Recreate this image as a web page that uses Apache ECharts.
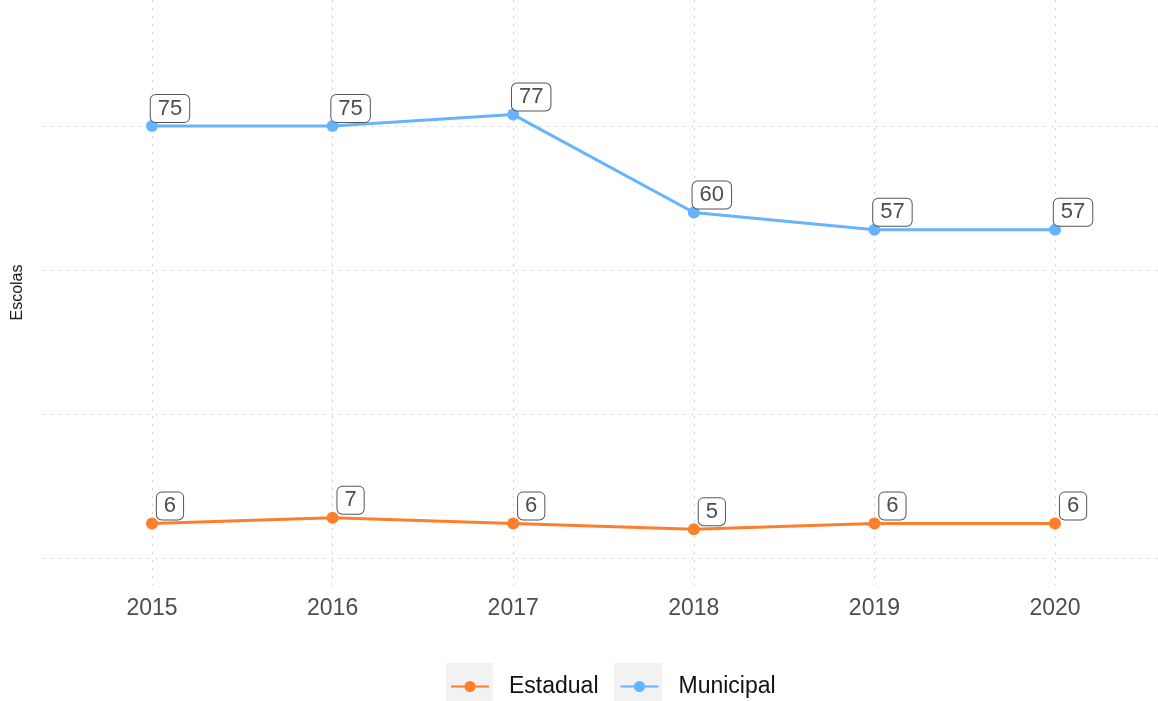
<!DOCTYPE html>
<html>
<head>
<meta charset="utf-8">
<title>Escolas</title>
<script src="https://cdn.jsdelivr.net/npm/echarts@6/dist/echarts.min.js"></script>
<style>
  html, body { margin: 0; padding: 0; background: #ffffff; }
  #chart { width: 1158px; height: 701px; }
</style>
</head>
<body>
<div id="chart"></div>
<script>
// School counts per year, by administrative network
const years = [2015, 2016, 2017, 2018, 2019, 2020];
const estadual = [6, 7, 6, 5, 6, 6];
const municipal = [75, 75, 77, 60, 57, 57];
// Horizontal reference lines on the value scale
const yGridTicks = [0, 25, 50, 75];

const FONT = "'Liberation Sans', Arial, Helvetica, sans-serif";
const ORANGE = '#fd7f2c';
const BLUE = '#66b3ff';
const GRID_LINE = { color: '#cfcfcf', width: 1, type: [2, 6] };

function pairs(values) {
  return years.map((y, i) => [y, values[i]]);
}

function lineSeries(name, values, color) {
  return {
    name: name,
    type: 'line',
    z: 3,
    data: pairs(values),
    symbol: 'circle',
    symbolSize: 12,
    showSymbol: true,
    color: color,
    lineStyle: { color: color, width: 3 },
    itemStyle: { color: color },
    emphasis: { disabled: true },
    label: {
      show: true,
      position: 'inside',
      offset: [18, -17.5],
      align: 'center',
      verticalAlign: 'middle',
      formatter: p => String(p.value[1]),
      fontFamily: FONT,
      fontSize: 22,
      lineHeight: 22,
      color: '#4d4d4d',
      backgroundColor: '#ffffff',
      borderColor: '#555555',
      borderWidth: 1,
      borderRadius: 5,
      padding: [3, 7, 2, 7]
    }
  };
}

const chart = echarts.init(document.getElementById('chart'), null, { renderer: 'canvas' });

chart.setOption({
  animation: false,
  backgroundColor: '#ffffff',
  textStyle: { fontFamily: FONT },
  grid: { left: 43.6, top: 0, width: 1114.4, height: 585, containLabel: false },
  xAxis: {
    type: 'value',
    min: 2014.4,
    max: 2020.57,
    axisLine: { show: false },
    axisTick: { show: false },
    splitLine: { show: true, showMinLine: false, showMaxLine: false, lineStyle: GRID_LINE },
    axisLabel: {
      showMinLabel: false,
      showMaxLabel: false,
      margin: 12,
      fontFamily: FONT,
      fontSize: 23,
      color: '#4d4d4d',
      formatter: v => (Number.isInteger(v) ? String(v) : '')
    }
  },
  yAxis: {
    type: 'value',
    min: -4.7,
    max: 96.9,
    axisLine: { show: false },
    axisTick: { show: false },
    axisLabel: { show: false },
    splitLine: { show: false },
    name: 'Escolas',
    nameLocation: 'middle',
    nameGap: 18,
    nameTextStyle: { fontFamily: FONT, fontSize: 16, color: '#1a1a1a' }
  },
  legend: {
    data: ['Estadual', 'Municipal'],
    orient: 'horizontal',
    left: 450,
    top: 675,
    padding: 0,
    itemWidth: 38,
    itemHeight: 14,
    itemGap: 21,
    selectedMode: false,
    textStyle: { fontFamily: FONT, fontSize: 23, color: '#111111', padding: [0, 0, 0, 15] }
  },
  graphic: [
    { type: 'rect', z: 0, left: 446, top: 663, shape: { width: 47, height: 38 }, style: { fill: '#f2f2f2' } },
    { type: 'rect', z: 0, left: 614, top: 663, shape: { width: 48, height: 38 }, style: { fill: '#f2f2f2' } }
  ],
  series: [
    {
      name: 'grid',
      type: 'line',
      z: 1,
      data: [],
      silent: true,
      markLine: {
        z: 1,
        silent: true,
        symbol: ['none', 'none'],
        label: { show: false },
        lineStyle: GRID_LINE,
        emphasis: { disabled: true },
        data: yGridTicks.map(v => ({ yAxis: v }))
      }
    },
    lineSeries('Estadual', estadual, ORANGE),
    lineSeries('Municipal', municipal, BLUE)
  ]
});
</script>
</body>
</html>
